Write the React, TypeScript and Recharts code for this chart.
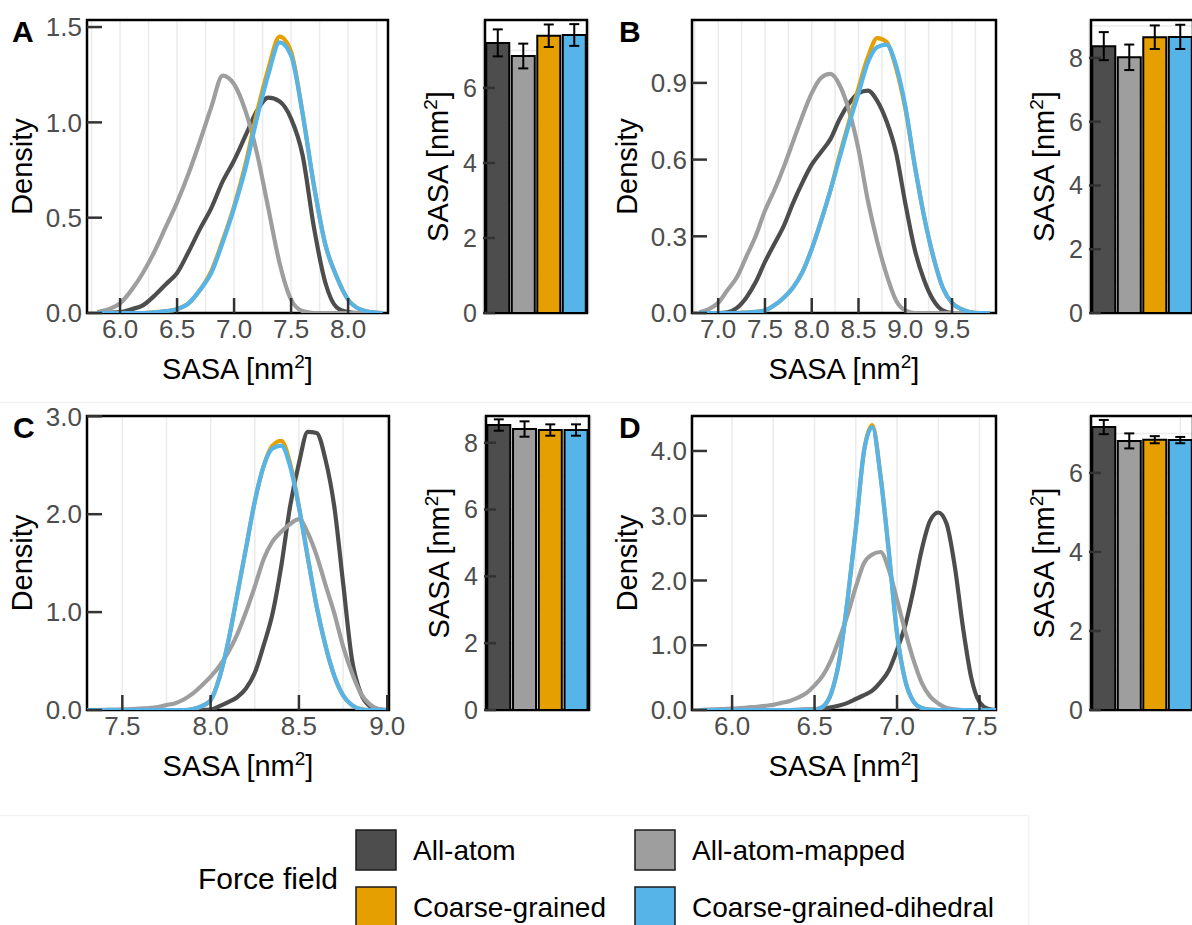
import React from "react";
import {
  LineChart,
  Line,
  BarChart,
  Bar,
  Cell,
  ErrorBar,
  XAxis,
  YAxis,
  CartesianGrid,
  ReferenceArea,
  Label,
} from "recharts";

// force fields, shared by every panel and the legend
const forceFields = ["All-atom", "All-atom-mapped", "Coarse-grained", "Coarse-grained-dihedral"];
const fieldColors = ["#4d4d4d", "#9e9e9e", "#E69F00", "#56B4E9"];
const seriesKeys = ["aa", "aam", "cg", "cgd"];

// ---- panel A ----
const xA = [5.8, 5.9, 6.0, 6.1, 6.2, 6.3, 6.4, 6.5, 6.6, 6.7, 6.8, 6.9, 7.0, 7.1, 7.2, 7.3, 7.4, 7.5, 7.6, 7.7, 7.8, 7.9, 8.0, 8.1, 8.2, 8.3];
const aaA = [0, 0.002, 0.005, 0.02, 0.04, 0.09, 0.15, 0.21, 0.32, 0.44, 0.55, 0.69, 0.8, 0.93, 1.06, 1.13, 1.11, 1.02, 0.83, 0.45, 0.16, 0.03, 0.005, 0, 0, 0];
const aamA = [0.005, 0.02, 0.05, 0.12, 0.21, 0.32, 0.45, 0.58, 0.73, 0.9, 1.08, 1.245, 1.2, 1.06, 0.84, 0.55, 0.26, 0.07, 0.01, 0, 0, 0, 0, 0, 0, 0];
const cgA = [0, 0, 0, 0, 0, 0.003, 0.01, 0.02, 0.05, 0.12, 0.22, 0.38, 0.56, 0.78, 1.05, 1.28, 1.45, 1.37, 1.05, 0.67, 0.36, 0.19, 0.07, 0.02, 0.005, 0];
const cgdA = [0, 0, 0, 0, 0, 0.003, 0.01, 0.02, 0.05, 0.12, 0.21, 0.37, 0.55, 0.76, 1.02, 1.25, 1.42, 1.35, 1.05, 0.67, 0.36, 0.19, 0.07, 0.02, 0.005, 0];
const xTicksA = [6.0, 6.5, 7.0, 7.5, 8.0];
const xGridA = [5.75, 6.0, 6.25, 6.5, 6.75, 7.0, 7.25, 7.5, 7.75, 8.0, 8.25];
const yTicksA = [0, 0.5, 1.0, 1.5];
const barA = [7.2, 6.85, 7.39, 7.41];
const errA = [0.36, 0.33, 0.3, 0.29];

// ---- panel B ----
const xB = [6.8, 6.9, 7.0, 7.1, 7.2, 7.3, 7.4, 7.5, 7.6, 7.7, 7.8, 7.9, 8.0, 8.1, 8.2, 8.3, 8.4, 8.5, 8.6, 8.7, 8.8, 8.9, 9.0, 9.1, 9.2, 9.3, 9.4, 9.5, 9.6, 9.7, 9.8, 9.9];
const aaB = [0, 0, 0, 0.003, 0.02, 0.06, 0.12, 0.2, 0.27, 0.34, 0.43, 0.51, 0.58, 0.63, 0.68, 0.76, 0.82, 0.86, 0.87, 0.83, 0.75, 0.63, 0.43, 0.25, 0.13, 0.05, 0.01, 0, 0, 0, 0, 0];
const aamB = [0.003, 0.015, 0.04, 0.09, 0.14, 0.22, 0.3, 0.4, 0.48, 0.57, 0.67, 0.77, 0.86, 0.92, 0.935, 0.89, 0.79, 0.64, 0.44, 0.28, 0.15, 0.05, 0.01, 0, 0, 0, 0, 0, 0, 0, 0, 0];
const cgB = [0, 0, 0, 0, 0, 0.002, 0.005, 0.01, 0.03, 0.06, 0.1, 0.16, 0.25, 0.36, 0.48, 0.62, 0.75, 0.88, 1.0, 1.075, 1.06, 0.96, 0.8, 0.58, 0.38, 0.22, 0.1, 0.04, 0.015, 0.003, 0, 0];
const cgdB = [0, 0, 0, 0, 0, 0.002, 0.005, 0.01, 0.03, 0.06, 0.1, 0.16, 0.25, 0.36, 0.48, 0.61, 0.74, 0.86, 0.98, 1.04, 1.05, 0.97, 0.81, 0.58, 0.38, 0.22, 0.1, 0.04, 0.015, 0.003, 0, 0];
const xTicksB = [7.0, 7.5, 8.0, 8.5, 9.0, 9.5];
const xGridB = [6.75, 7.0, 7.25, 7.5, 7.75, 8.0, 8.25, 8.5, 8.75, 9.0, 9.25, 9.5, 9.75];
const yTicksB = [0, 0.3, 0.6, 0.9];
const barB = [8.37, 8.02, 8.65, 8.66];
const errB = [0.44, 0.4, 0.37, 0.38];

// ---- panel C ----
const xC = [7.3, 7.35, 7.4, 7.45, 7.5, 7.55, 7.6, 7.65, 7.7, 7.75, 7.8, 7.85, 7.9, 7.95, 8.0, 8.05, 8.1, 8.15, 8.2, 8.25, 8.3, 8.35, 8.4, 8.45, 8.5, 8.55, 8.6, 8.65, 8.7, 8.75, 8.8, 8.85, 8.9, 8.95, 9.0];
const aaC = [0, 0, 0, 0, 0, 0, 0, 0, 0, 0, 0, 0, 0, 0, 0.005, 0.04, 0.08, 0.13, 0.22, 0.38, 0.66, 0.98, 1.47, 2.08, 2.52, 2.84, 2.83, 2.56, 2.08, 1.3, 0.52, 0.17, 0.04, 0.005, 0];
const aamC = [0, 0, 0.002, 0.004, 0.006, 0.01, 0.015, 0.02, 0.03, 0.05, 0.07, 0.11, 0.17, 0.25, 0.34, 0.45, 0.59, 0.77, 1.0, 1.26, 1.54, 1.72, 1.82, 1.9, 1.95, 1.81, 1.58, 1.28, 0.99, 0.65, 0.38, 0.17, 0.06, 0.01, 0];
const cgC = [0, 0, 0, 0, 0, 0, 0, 0, 0, 0, 0, 0, 0.01, 0.04, 0.1, 0.33, 0.7, 1.17, 1.65, 2.13, 2.49, 2.7, 2.75, 2.52, 2.08, 1.56, 1.06, 0.66, 0.35, 0.15, 0.05, 0.01, 0, 0, 0];
const cgdC = [0, 0, 0, 0, 0, 0, 0, 0, 0, 0, 0, 0, 0.01, 0.04, 0.1, 0.33, 0.7, 1.17, 1.65, 2.13, 2.49, 2.67, 2.7, 2.49, 2.07, 1.56, 1.06, 0.66, 0.35, 0.15, 0.05, 0.01, 0, 0, 0];
const xTicksC = [7.5, 8.0, 8.5, 9.0];
const xGridC = [7.5, 7.75, 8.0, 8.25, 8.5, 8.75, 9.0];
const yTicksC = [0, 1, 2, 3];
const barC = [8.53, 8.41, 8.38, 8.38];
const errC = [0.17, 0.23, 0.17, 0.17];

// ---- panel D ----
const xD = [5.8, 5.85, 5.9, 5.95, 6.0, 6.05, 6.1, 6.15, 6.2, 6.25, 6.3, 6.35, 6.4, 6.45, 6.5, 6.55, 6.6, 6.65, 6.7, 6.75, 6.8, 6.85, 6.9, 6.95, 7.0, 7.05, 7.1, 7.15, 7.2, 7.25, 7.3, 7.35, 7.4, 7.45, 7.5, 7.55, 7.6];
const aaD = [0, 0, 0, 0, 0, 0, 0, 0, 0, 0, 0, 0, 0.002, 0.006, 0.01, 0.02, 0.04, 0.07, 0.11, 0.17, 0.23, 0.3, 0.43, 0.61, 0.93, 1.31, 1.86, 2.48, 2.92, 3.05, 2.88, 2.22, 1.27, 0.5, 0.12, 0.02, 0];
const aamD = [0, 0.005, 0.01, 0.015, 0.02, 0.03, 0.04, 0.05, 0.065, 0.08, 0.11, 0.14, 0.19, 0.26, 0.38, 0.53, 0.77, 1.1, 1.47, 1.9, 2.27, 2.4, 2.44, 2.17, 1.7, 1.21, 0.77, 0.42, 0.21, 0.1, 0.03, 0.01, 0, 0, 0, 0, 0];
const cgD = [0, 0, 0, 0, 0, 0, 0, 0, 0, 0, 0, 0, 0, 0, 0.005, 0.05, 0.25, 0.77, 1.7, 2.8, 4.0, 4.4, 3.62, 2.45, 1.18, 0.45, 0.13, 0.03, 0.005, 0, 0, 0, 0, 0, 0, 0, 0];
const cgdD = [0, 0, 0, 0, 0, 0, 0, 0, 0, 0, 0, 0, 0, 0, 0.005, 0.05, 0.25, 0.77, 1.7, 2.8, 4.0, 4.37, 3.6, 2.45, 1.18, 0.45, 0.13, 0.03, 0.005, 0, 0, 0, 0, 0, 0, 0, 0];
const xTicksD = [6.0, 6.5, 7.0, 7.5];
const xGridD = [5.75, 6.0, 6.25, 6.5, 6.75, 7.0, 7.25, 7.5];
const yTicksD = [0, 1, 2, 3, 4];
const barD = [7.16, 6.81, 6.84, 6.83];
const errD = [0.18, 0.19, 0.09, 0.08];

const TICK_FILL = "#4d4d4d";
const TICK_LINE = { stroke: "#333333", strokeWidth: 2.5 };
const GRID = "#ebebeb";

function Title({ x, y, rotate, sasa }: { x: number; y: number; rotate?: boolean; sasa?: boolean }) {
  return (
    <text
      x={x}
      y={y}
      textAnchor="middle"
      fontSize={29}
      fill="#000"
      transform={rotate ? `rotate(-90 ${x} ${y})` : undefined}
    >
      {sasa ? (
        <>
          SASA [nm
          <tspan dy={-11} fontSize={19}>
            2
          </tspan>
          <tspan dy={11}>]</tspan>
        </>
      ) : (
        "Density"
      )}
    </text>
  );
}

function DensityPanel({ left, top, x, ys, xDomain, xTicks, xGrid, yMax, yTicks, mt, yw, mr }: any) {
  const rows = x.map((v: number, i: number) => ({
    x: v,
    aa: ys[0][i],
    aam: ys[1][i],
    cg: ys[2][i],
    cgd: ys[3][i],
  }));
  const h = 400;
  return (
    <div style={{ position: "absolute", left, top }}>
      <LineChart width={420} height={h} data={rows} margin={{ top: mt, right: mr, left: 0, bottom: 0 }}>
        <CartesianGrid horizontal={false} verticalValues={xGrid} stroke={GRID} strokeWidth={1.5} />
        <XAxis
          type="number"
          dataKey="x"
          domain={xDomain}
          ticks={xTicks}
          interval={0}
          allowDataOverflow
          height={h - mt - (top === 0 ? 293 : 294)}
          axisLine={false}
          tickSize={-15}
          tickMargin={22}
          tickLine={TICK_LINE}
          tick={{ fill: TICK_FILL, fontSize: 26 }}
          tickFormatter={(v: number) => v.toFixed(1)}
        >
          <Label content={(p: any) => <Title x={p.viewBox.x + p.viewBox.width / 2} y={p.viewBox.y + 66} sasa />} />
        </XAxis>
        <YAxis
          type="number"
          domain={[0, yMax]}
          ticks={yTicks}
          interval={0}
          allowDataOverflow
          width={yw}
          axisLine={false}
          tickSize={-15}
          tickMargin={20}
          tickLine={TICK_LINE}
          tick={{ fill: TICK_FILL, fontSize: 26 }}
          tickFormatter={(v: number) => v.toFixed(1)}
        >
          <Label
            content={(p: any) => (
              <Title x={p.viewBox.x + p.viewBox.width - 55} y={p.viewBox.y + p.viewBox.height / 2} rotate />
            )}
          />
        </YAxis>
        {seriesKeys.map((k, i) => (
          <Line
            key={k}
            dataKey={k}
            name={forceFields[i]}
            type="monotone"
            stroke={fieldColors[i]}
            strokeWidth={4.2}
            dot={false}
            isAnimationActive={false}
          />
        ))}
        <ReferenceArea y1={0} y2={yMax} fill="none" stroke="#000" strokeWidth={2.5} ifOverflow="visible" />
      </LineChart>
    </div>
  );
}

function BarPanel({ left, top, values, errors, yMax, yTicks, mt, yw, mr, mb }: any) {
  const rows = forceFields.map((name, i) => ({ name, value: values[i], err: errors[i] }));
  const minor: number[] = [];
  for (let v = 1; v < yMax; v++) minor.push(v);
  return (
    <div style={{ position: "absolute", left, top }}>
      <BarChart
        width={200}
        height={400}
        data={rows}
        margin={{ top: mt, right: mr, left: 0, bottom: mb }}
        barCategoryGap="5%"
      >
        <CartesianGrid horizontalValues={minor} stroke={GRID} strokeWidth={1.5} />
        <XAxis dataKey="name" hide padding={{ left: 2, right: 2 }} />
        <YAxis
          type="number"
          domain={[0, yMax]}
          ticks={yTicks}
          interval={0}
          allowDataOverflow
          width={yw}
          axisLine={false}
          tickSize={-12}
          tickMargin={18}
          tickLine={TICK_LINE}
          tick={{ fill: TICK_FILL, fontSize: 25 }}
        >
          <Label
            content={(p: any) => (
              <Title x={p.viewBox.x + p.viewBox.width - 35} y={p.viewBox.y + p.viewBox.height / 2} rotate sasa />
            )}
          />
        </YAxis>
        <Bar dataKey="value" stroke="#000" strokeWidth={2} isAnimationActive={false}>
          {rows.map((r, i) => (
            <Cell key={r.name} fill={fieldColors[i]} />
          ))}
          <ErrorBar dataKey="err" width={5} stroke="#000" strokeWidth={2} direction="y" />
        </Bar>
        <ReferenceArea y1={0} y2={yMax} fill="none" stroke="#000" strokeWidth={2.5} ifOverflow="visible" />
      </BarChart>
    </div>
  );
}

function Overlay() {
  const keyX = [356, 635];
  const keyY = [830, 887];
  return (
    <svg
      width={1192}
      height={925}
      style={{ position: "absolute", left: 0, top: 0 }}
      fontFamily="'Liberation Sans', Arial, sans-serif"
    >
      <line x1={0} y1={402.5} x2={1192} y2={402.5} stroke="#f0f0f0" strokeWidth={1.5} />
      <line x1={0} y1={815.5} x2={1028} y2={815.5} stroke="#f2f2f2" strokeWidth={1.5} />
      <line x1={1028.5} y1={815} x2={1028.5} y2={925} stroke="#f2f2f2" strokeWidth={1.5} />
      {[
        ["A", 12, 42],
        ["B", 619, 42],
        ["C", 13, 438],
        ["D", 619, 438],
      ].map(([t, x, y]) => (
        <text key={t as string} x={x as number} y={y as number} fontSize={30} fontWeight="bold" fill="#000">
          {t}
        </text>
      ))}
      <text x={198} y={889} fontSize={30} fill="#000">
        Force field
      </text>
      {forceFields.map((name, i) => {
        const kx = keyX[i % 2];
        const ky = keyY[Math.floor(i / 2)];
        return (
          <g key={name}>
            <rect x={kx} y={ky} width={40} height={40} fill={fieldColors[i]} stroke="#1a1a1a" strokeWidth={1.5} />
            <text x={kx + 57} y={ky + 30} fontSize={28} fill="#000">
              {name}
            </text>
          </g>
        );
      })}
    </svg>
  );
}

export default function App() {
  return (
    <div
      style={{
        position: "absolute",
        left: 0,
        top: 0,
        width: 1192,
        height: 925,
        overflow: "hidden",
        background: "#fff",
        fontFamily: "'Liberation Sans', Arial, sans-serif",
      }}
    >
      <Overlay />
      <DensityPanel left={0} top={0} x={xA} ys={[aaA, aamA, cgA, cgdA]} xDomain={[5.71, 8.35]} xTicks={xTicksA} xGrid={xGridA} yMax={1.537} yTicks={yTicksA} mt={20} yw={87} mr={32} />
      <BarPanel left={400} top={0} values={barA} errors={errA} yMax={7.81} yTicks={[0, 2, 4, 6]} mt={20} yw={83} mr={11} mb={87} />
      <DensityPanel left={600} top={0} x={xB} ys={[aaB, aamB, cgB, cgdB]} xDomain={[6.72, 9.97]} xTicks={xTicksB} xGrid={xGridB} yMax={1.146} yTicks={yTicksB} mt={20} yw={92} mr={24} />
      <BarPanel left={1000} top={0} values={barB} errors={errB} yMax={9.19} yTicks={[0, 2, 4, 6, 8]} mt={20} yw={89} mr={5} mb={87} />
      <DensityPanel left={0} top={400} x={xC} ys={[aaC, aamC, cgC, cgdC]} xDomain={[7.3, 9.01]} xTicks={xTicksC} xGrid={xGridC} yMax={3.003} yTicks={yTicksC} mt={16} yw={87} mr={31} />
      <BarPanel left={400} top={400} values={barC} errors={errC} yMax={8.8} yTicks={[0, 2, 4, 6, 8]} mt={16} yw={84} mr={9} mb={90} />
      <DensityPanel left={600} top={400} x={xD} ys={[aaD, aamD, cgD, cgdD]} xDomain={[5.757, 7.6]} xTicks={xTicksD} xGrid={xGridD} yMax={4.54} yTicks={yTicksD} mt={16} yw={92} mr={24} />
      <BarPanel left={1000} top={400} values={barD} errors={errD} yMax={7.44} yTicks={[0, 2, 4, 6]} mt={16} yw={89} mr={5} mb={90} />
    </div>
  );
}
